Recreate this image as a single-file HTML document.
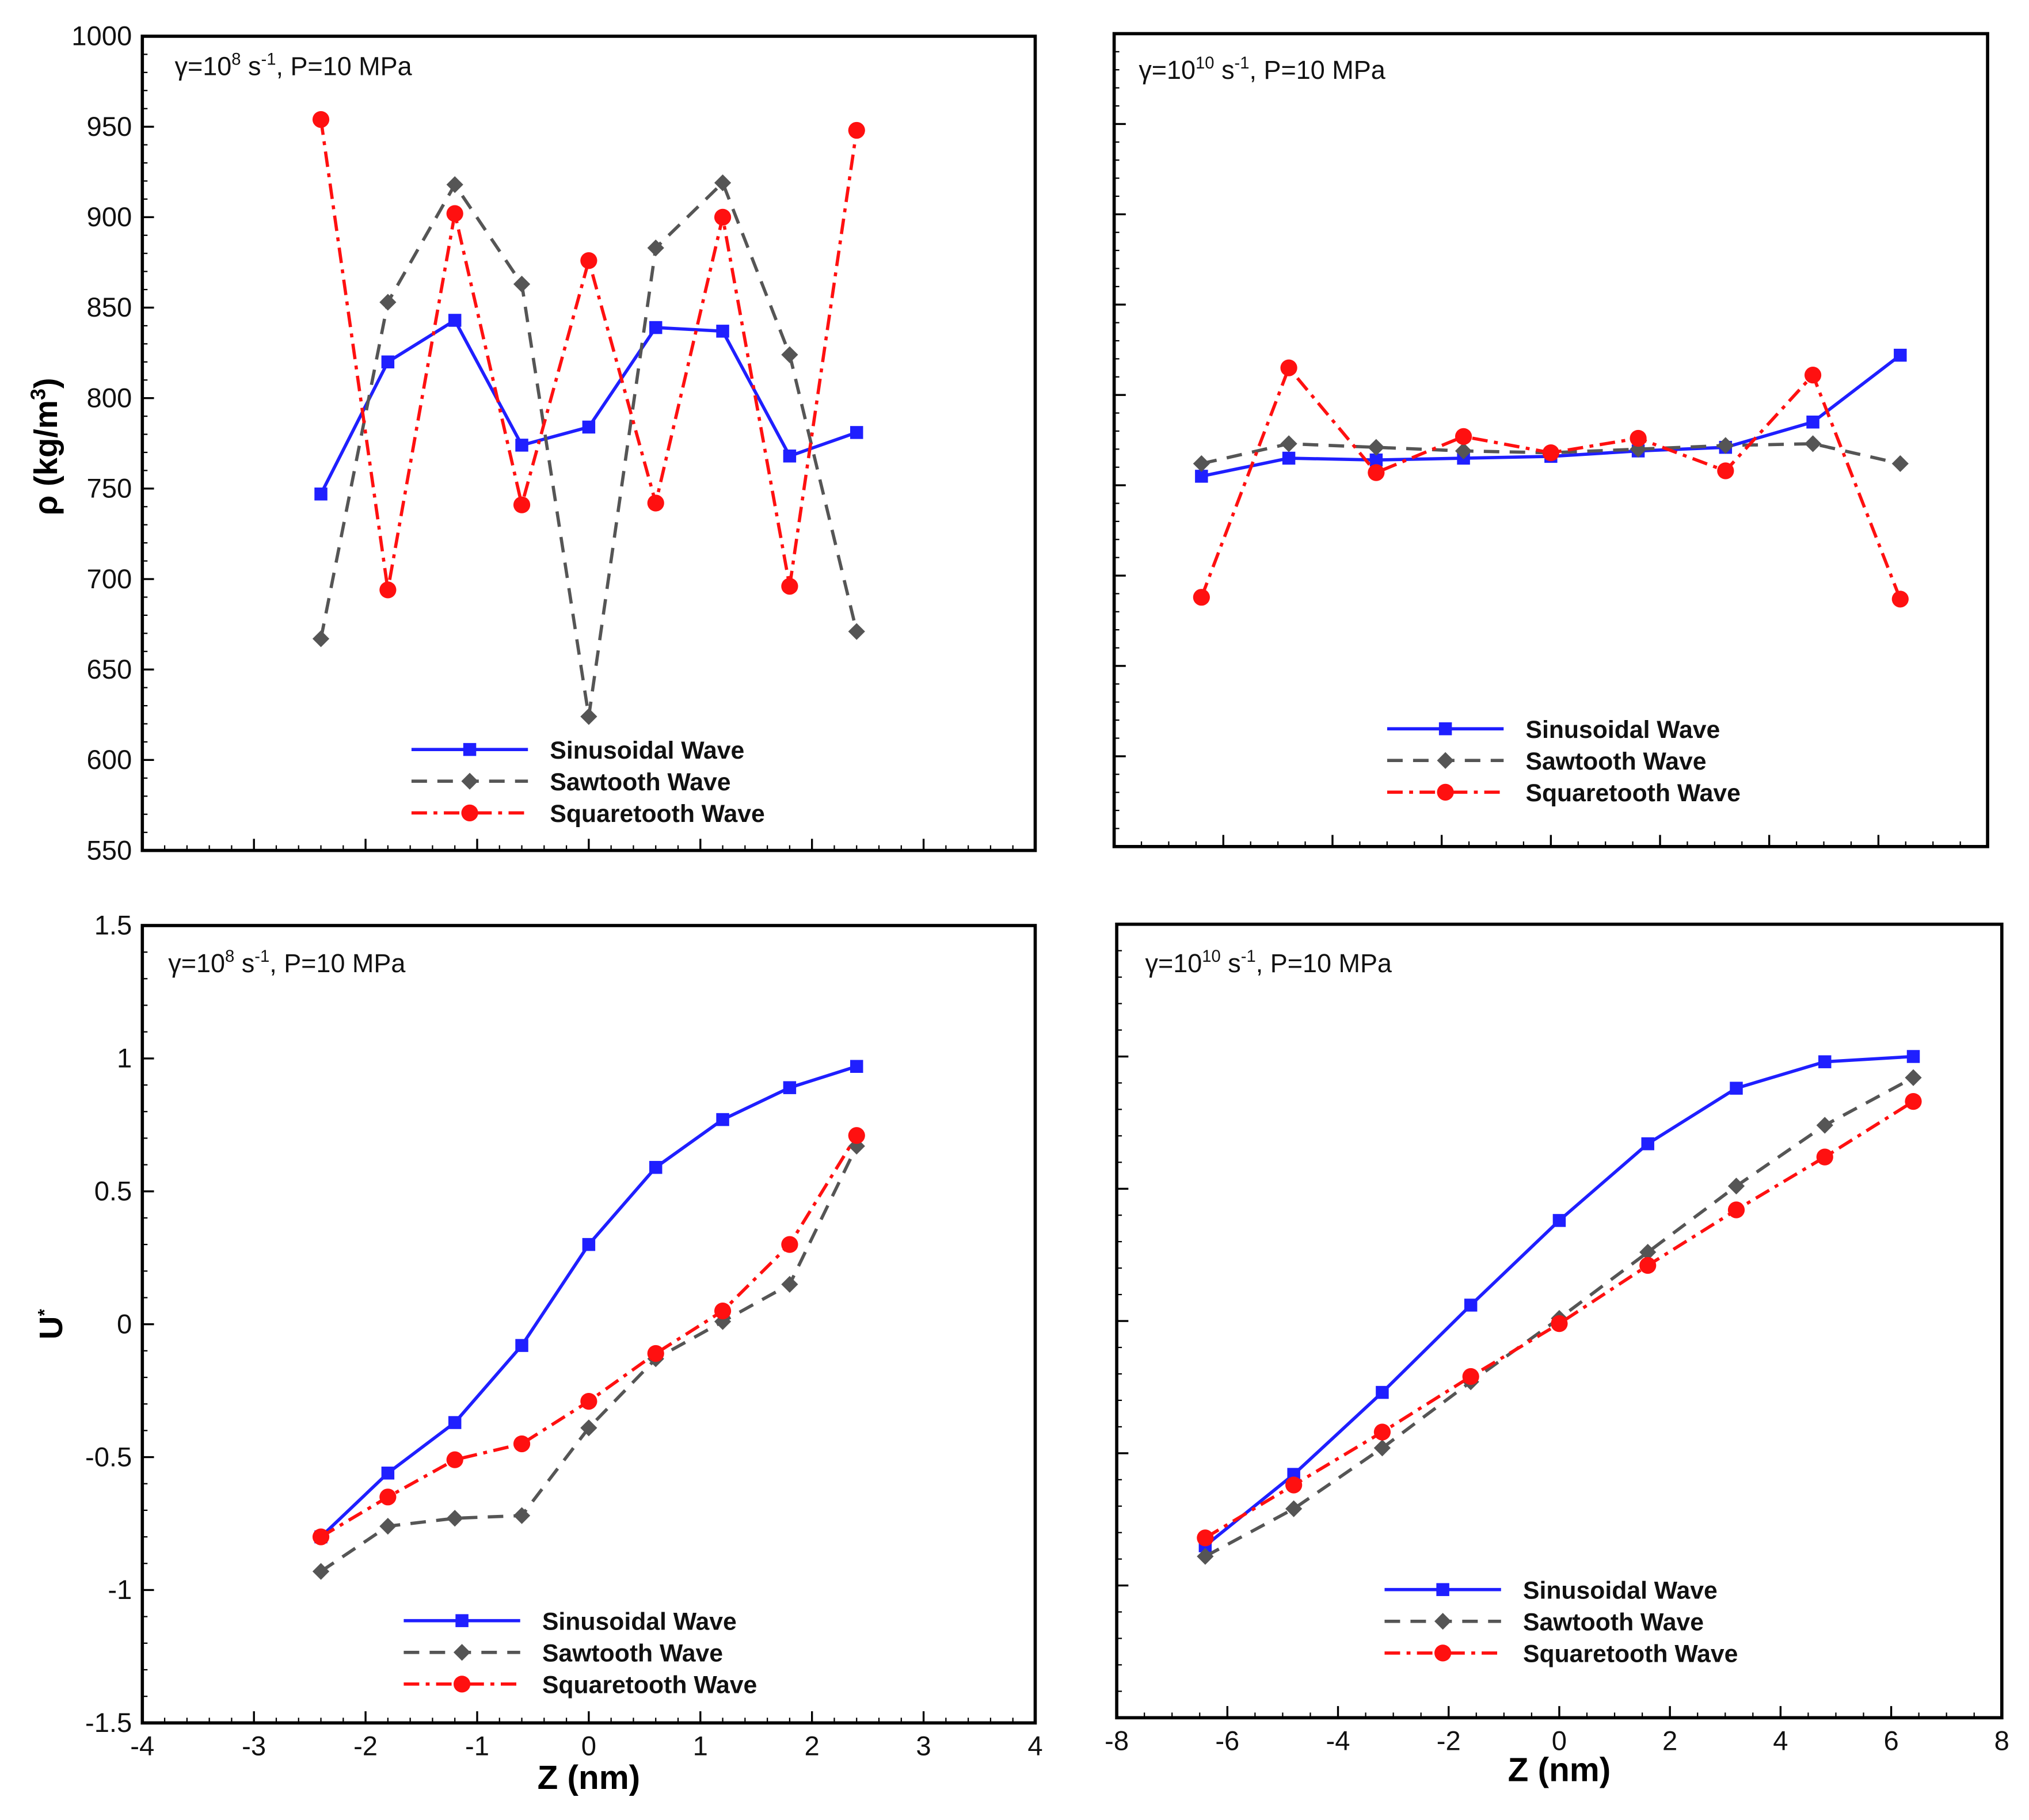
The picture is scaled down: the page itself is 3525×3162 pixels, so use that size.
<!DOCTYPE html>
<html><head><meta charset="utf-8"><style>
html,body{margin:0;padding:0;background:#fff}
svg{display:block}
text{font-family:"Liberation Sans",Arial,sans-serif}
</style></head><body>
<svg id="s" xmlns="http://www.w3.org/2000/svg" width="3525" height="3162" viewBox="0 0 1568 1406" preserveAspectRatio="none"></svg>
<script>
const xTL=[-2.4,-1.8,-1.2,-0.6,0,0.6,1.2,1.8,2.4];
const xR=[-6.4,-4.8,-3.2,-1.6,0,1.6,3.2,4.8,6.4];
const tlSin=[747,820,843,774,784,839,837,768,781];
const tlSaw=[667,853,918,863,624,883,919,824,671];
const tlSq=[954,694,902,741,876,742,900,696,948];
const trSin=[755,765,764,765,766,769,771,785,822];
const trSaw=[762,773,771,769,768,770,772,773,762];
const trSq=[688,815,757,777,768,776,758,811,687];
const blSin=[-0.8,-0.56,-0.37,-0.08,0.3,0.59,0.77,0.89,0.97];
const blSaw=[-0.93,-0.76,-0.73,-0.72,-0.39,-0.13,0.01,0.15,0.67];
const blSq=[-0.8,-0.65,-0.51,-0.45,-0.29,-0.11,0.05,0.3,0.71];
const brSin=[-0.85,-0.58,-0.27,0.06,0.38,0.67,0.88,0.98,1.0];
const brSaw=[-0.89,-0.71,-0.48,-0.23,0.01,0.26,0.51,0.74,0.92];
const brSq=[-0.82,-0.62,-0.42,-0.21,-0.01,0.21,0.42,0.62,0.83];
const rhoTicks=[550,600,650,700,750,800,850,900,950,1000];
const uTicks=[-1.5,-1,-0.5,0,0.5,1,1.5];
const uTickLabels=["-1.5","-1","-0.5","0","0.5","1","1.5"];
const zTicksL=[-4,-3,-2,-1,0,1,2,3,4];
const zTicksR=[-8,-6,-4,-2,0,2,4,6,8];

const S=document.getElementById('s');
const NS='http://www.w3.org/2000/svg';
function el(t,a,p){const e=document.createElementNS(NS,t);for(const k in a)e.setAttribute(k,a[k]);(p||S).appendChild(e);return e;}

function panel(id,b,xd,yd,xt,yt,ytl,xMinor,yMinor,showY,showX,series,leg,ann,annSup){
  const g=el('g',{});
  
  
  const X=v=>b.l+(v-xd[0])/(xd[1]-xd[0])*(b.r-b.l);
  const Y=v=>b.b-(v-yd[0])/(yd[1]-yd[0])*(b.b-b.t);
  for(let v=xd[0];v<=xd[1]+1e-9;v+=xMinor){const x=X(v);el('line',{x1:x,x2:x,y1:b.b,y2:b.b-4,stroke:'#000','stroke-width':1},g);}
  for(let v=yd[0];v<=yd[1]+1e-9;v+=yMinor){const y=Y(v);el('line',{x1:b.l,x2:b.l+4,y1:y,y2:y,stroke:'#000','stroke-width':1},g);}
  xt.forEach(v=>{const x=X(v);el('line',{x1:x,x2:x,y1:b.b,y2:b.b-9,stroke:'#000','stroke-width':1.5},g);
    if(showX){const t=el('text',{x:x,y:b.b+25,'font-size':21,'text-anchor':'middle',fill:'#111'},g);t.textContent=v;}});
  yt.forEach((v,i)=>{const y=Y(v);el('line',{x1:b.l,x2:b.l+9,y1:y,y2:y,stroke:'#000','stroke-width':1.5},g);
    if(showY){const t=el('text',{x:b.l-8,y:y+7,'font-size':21,'text-anchor':'end',fill:'#111'},g);t.textContent=ytl[i];}});
  const fr=el('rect',{x:b.l,y:b.t,width:b.r-b.l,height:b.b-b.t,fill:'none',stroke:'#000','stroke-width':2.5},g);
  
  const styles=[{c:'#1f1fff',d:'',m:'sq',n:'Sinusoidal Wave'},{c:'#555',d:'12,8',m:'di',n:'Sawtooth Wave'},{c:'#ff1010',d:'12,5,3,5',m:'ci',n:'Squaretooth Wave'}];
  function marker(st,x,y,gg){
    if(st.m==='sq')el('rect',{x:x-5,y:y-5,width:10,height:10,fill:st.c},gg);
    else if(st.m==='di')el('polygon',{points:`${x},${y-6.5} ${x+6.5},${y} ${x},${y+6.5} ${x-6.5},${y}`,fill:st.c},gg);
    else el('circle',{cx:x,cy:y,r:6.5,fill:st.c},gg);
  }
  series.forEach((s,k)=>{const st=styles[k];const sg=el('g',{},g);
    
    const pts=s.x.map((xv,i)=>X(xv)+','+Y(s.y[i])).join(' ');
    el('polyline',{points:pts,fill:'none',stroke:st.c,'stroke-width':2.5,'stroke-dasharray':st.d},sg);
    s.x.forEach((xv,i)=>marker(st,X(xv),Y(s.y[i]),sg));});
  const lg=el('g',{},g);
  styles.forEach((st,k)=>{const y=leg.y+k*24.5;const eg=el('g',{},lg);
    
    el('line',{x1:leg.x,x2:leg.x+90,y1:y,y2:y,stroke:st.c,'stroke-width':2.5,'stroke-dasharray':st.d},eg);
    marker(st,leg.x+45,y,eg);
    const t=el('text',{x:leg.x+107,y:y+7,'font-size':19,'font-weight':'bold',fill:'#111'},eg);t.textContent=st.n;});
  const a=el('text',{x:ann.x,y:ann.y,'font-size':20,fill:'#111'},g);
  
  a.innerHTML=`γ=10<tspan dy="-8" font-size="13">${annSup}</tspan><tspan dy="8"> s</tspan><tspan dy="-8" font-size="13">-1</tspan><tspan dy="8">, P=10 MPa</tspan>`;
}
const rl=rhoTicks.map(String);
panel('panel-density-1e8',{l:110,r:800,t:28,b:657},[-4,4],[550,1000],zTicksL,rhoTicks,rl,0.2,10,true,false,
 [{x:xTL,y:tlSin},{x:xTL,y:tlSaw},{x:xTL,y:tlSq}],{x:318,y:579},{x:135,y:58},'8');
panel('panel-density-1e10',{l:861,r:1536,t:26,b:654},[-8,8],[550,1000],zTicksR,rhoTicks,rl,0.5,10,false,false,
 [{x:xR,y:trSin},{x:xR,y:trSaw},{x:xR,y:trSq}],{x:1072,y:563},{x:880,y:61},'10');
panel('panel-velocity-1e8',{l:110,r:800,t:715,b:1331},[-4,4],[-1.5,1.5],zTicksL,uTicks,uTickLabels,0.2,0.1,true,true,
 [{x:xTL,y:blSin},{x:xTL,y:blSaw},{x:xTL,y:blSq}],{x:312,y:1252},{x:130,y:751},'8');
panel('panel-velocity-1e10',{l:863,r:1547,t:714,b:1327},[-8,8],[-1.5,1.5],zTicksR,uTicks,uTickLabels,0.5,0.1,false,true,
 [{x:xR,y:brSin},{x:xR,y:brSaw},{x:xR,y:brSq}],{x:1070,y:1228},{x:885,y:751},'10');
</script>
<svg style="position:absolute;left:0;top:0" width="3525" height="3162" viewBox="0 0 1568 1406" preserveAspectRatio="none">
<text transform="translate(44,345) rotate(-90)" text-anchor="middle" font-size="25" font-weight="bold" font-family="Liberation Sans, sans-serif">ρ (kg/m<tspan dy="-9" font-size="16">3</tspan><tspan dy="9">)</tspan></text>
<text transform="translate(48,1023) rotate(-90)" text-anchor="middle" font-size="25" font-weight="bold" font-family="Liberation Sans, sans-serif">U<tspan dy="-9" font-size="14">*</tspan></text>
<text x="455" y="1382" text-anchor="middle" font-size="26" font-weight="bold" font-family="Liberation Sans, sans-serif">Z (nm)</text>
<text x="1205" y="1376" text-anchor="middle" font-size="26" font-weight="bold" font-family="Liberation Sans, sans-serif">Z (nm)</text>
</svg>
</body></html>
